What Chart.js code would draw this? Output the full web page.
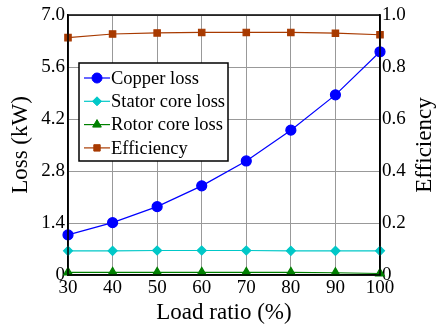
<!DOCTYPE html>
<html>
<head>
<meta charset="utf-8">
<script src="https://cdn.jsdelivr.net/npm/chart.js@4"></script>
<style>
  html, body { margin: 0; padding: 0; background: #fff; }
  #wrap { width: 440px; height: 327px; }
</style>
</head>
<body>
<div id="wrap"><canvas id="c"></canvas></div>
<script>
const loadRatio = [30, 40, 50, 60, 70, 80, 90, 100];
const copperLoss = [1.08, 1.41, 1.84, 2.40, 3.07, 3.90, 4.85, 6.01];
const statorLoss = [0.65, 0.65, 0.66, 0.66, 0.66, 0.65, 0.65, 0.65];
const rotorLoss = [0.07, 0.07, 0.07, 0.07, 0.07, 0.07, 0.06, 0.04];
const efficiency = [0.913, 0.927, 0.931, 0.933, 0.933, 0.933, 0.930, 0.924];

const FONT = 'Liberation Serif';

// frame + right title + legend box
const extras = {
    id: 'extras',
    afterDraw(chart) {
        const ctx = chart.ctx;
        const a = chart.chartArea;
        ctx.save();
        ctx.strokeStyle = '#000';
        ctx.lineWidth = 1.5;
        ctx.strokeRect(a.left, a.top, a.right - a.left, a.bottom - a.top);

        // right axis title, reads bottom to top
        ctx.translate(425, (a.top + a.bottom) / 2);
        ctx.rotate(-Math.PI / 2);
        ctx.font = '23px "Liberation Serif"';
        ctx.fillStyle = '#000';
        ctx.textAlign = 'center';
        ctx.textBaseline = 'middle';
        ctx.fillText('Efficiency', 0, 0);
        ctx.restore();

        // legend
        ctx.save();
        const bx = 79, by = 63, bw = 149, bh = 98;
        ctx.fillStyle = '#fff';
        ctx.fillRect(bx, by, bw, bh);
        ctx.strokeStyle = '#000';
        ctx.lineWidth = 1.5;
        ctx.strokeRect(bx, by, bw, bh);
        chart.data.datasets.forEach((ds, i) => {
            const y = 78 + i * 23.3;
            ctx.strokeStyle = ds.borderColor;
            ctx.fillStyle = ds.pointBackgroundColor;
            ctx.lineWidth = 1.2;
            ctx.beginPath();
            ctx.moveTo(84, y);
            ctx.lineTo(110, y);
            ctx.stroke();
            ctx.lineWidth = 1;
            Chart.helpers.drawPoint(ctx, {
                pointStyle: ds.pointStyle, radius: ds.pointRadius, rotation: 0, borderWidth: 1
            }, 97, y);
            ctx.fillStyle = '#000';
            ctx.font = '18.5px "Liberation Serif"';
            ctx.textAlign = 'left';
            ctx.textBaseline = 'middle';
            ctx.fillText(ds.label, 111, y + 1);
        });
        ctx.restore();
    }
};

function series(label, data, color, style, radius, axis) {
    return {
        label: label,
        data: data,
        yAxisID: axis,
        borderColor: color,
        backgroundColor: color,
        pointBackgroundColor: color,
        pointBorderColor: color,
        pointStyle: style,
        pointRadius: radius,
        borderWidth: 1.2,
        tension: 0,
        clip: false
    };
}

new Chart(document.getElementById('c'), {
    type: 'line',
    data: {
        labels: loadRatio,
        datasets: [
            series('Copper loss', copperLoss, '#0000ff', 'circle', 5, 'y'),
            series('Stator core loss', statorLoss, '#00c8c8', 'rectRot', 4.5, 'y'),
            series('Rotor core loss', rotorLoss, '#008000', 'triangle', 5, 'y'),
            series('Efficiency', efficiency, '#a83a00', 'rect', 4.5, 'y1')
        ]
    },
    options: {
        responsive: true,
        maintainAspectRatio: false,
        animation: false,
        layout: { padding: { top: 15, left: 0, right: 0, bottom: 0 } },
        plugins: { legend: { display: false }, tooltip: { enabled: false } },
        scales: {
            x: {
                type: 'linear',
                min: 30, max: 100,
                ticks: { stepSize: 10, color: '#000', font: { family: FONT, size: 19 }, padding: 2 },
                grid: { color: '#999', lineWidth: 1, drawTicks: false },
                border: { color: '#000', width: 1.5 },
                title: { display: true, text: 'Load ratio (%)', color: '#000', font: { family: FONT, size: 23 }, padding: { top: 4, bottom: 0 } },
                afterFit: (s) => { s.height = 52; }
            },
            y: {
                position: 'left',
                min: 0, max: 7,
                ticks: {
                    stepSize: 1.4, color: '#000', font: { family: FONT, size: 19 }, padding: 3,
                    callback: (v) => Math.abs(v) < 1e-9 ? '0' : v.toFixed(1)
                },
                grid: { color: '#999', lineWidth: 1, drawTicks: false },
                border: { color: '#000', width: 1.5 },
                title: { display: true, text: 'Loss (kW)', color: '#000', font: { family: FONT, size: 23 }, padding: { top: 7, bottom: 0 } },
                afterFit: (s) => { s.width = 68; }
            },
            y1: {
                position: 'right',
                min: 0, max: 1,
                ticks: {
                    stepSize: 0.2, color: '#000', font: { family: FONT, size: 19 }, padding: 2,
                    callback: (v) => Math.abs(v) < 1e-9 ? '0' : v.toFixed(1)
                },
                grid: { display: false, drawTicks: false },
                border: { color: '#000', width: 1.5 },
                afterFit: (s) => { s.width = 60; }
            }
        }
    },
    plugins: [extras]
});
</script>
</body>
</html>
